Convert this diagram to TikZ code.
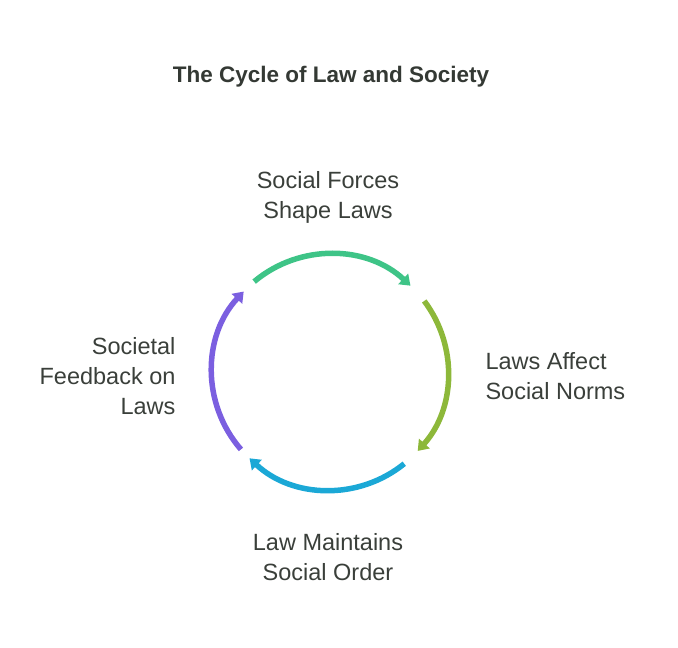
\documentclass[tikz,border=0pt]{standalone}
\usepackage{fontspec}
\setmainfont{Liberation Sans}
\usetikzlibrary{arrows.meta}
\definecolor{cg}{HTML}{3EC487}
\definecolor{co}{HTML}{8DB83A}
\definecolor{cb}{HTML}{1BA8D6}
\definecolor{cp}{HTML}{7B5FE0}
\definecolor{tx}{HTML}{3A3F3A}
\begin{document}
\begin{tikzpicture}[x=1pt,y=-1pt,
  arcline/.style={line width=5.5pt,-{Triangle[length=10pt,width=14pt]}},
  lbl/.style={font=\fontsize{23.5}{30}\selectfont,text=tx,align=#1},
  lbl/.default=center]
\useasboundingbox (0,0) rectangle (678,648);
\node[font=\fontsize{22.5}{26}\selectfont\bfseries,text=tx!90!black] (title) at (331,77) {The Cycle of Law and Society};
\coordinate (c) at (330,372);
\draw[arcline,cg] ([shift={(130:118pt)}]c) arc[start angle=130,end angle=47,radius=118pt];
\draw[arcline,co] ([shift={(37:118pt)}]c) arc[start angle=37,end angle=-42,radius=118pt];
\draw[arcline,cb] ([shift={(-51:118pt)}]c) arc[start angle=-51,end angle=-133,radius=118pt];
\draw[arcline,cp] ([shift={(221:118pt)}]c) arc[start angle=221,end angle=137,radius=118pt];
\node[lbl] (n1) at (328,197) {Social Forces\\Shape Laws};
\node[lbl=left,anchor=west] (n2) at (482,376) {Laws Affect\\Social Norms};
\node[lbl] (n3) at (328,557) {Law Maintains\\Social Order};
\node[lbl=right,anchor=east] (n4) at (179,376) {Societal\\Feedback on\\Laws};
\end{tikzpicture}
\end{document}
